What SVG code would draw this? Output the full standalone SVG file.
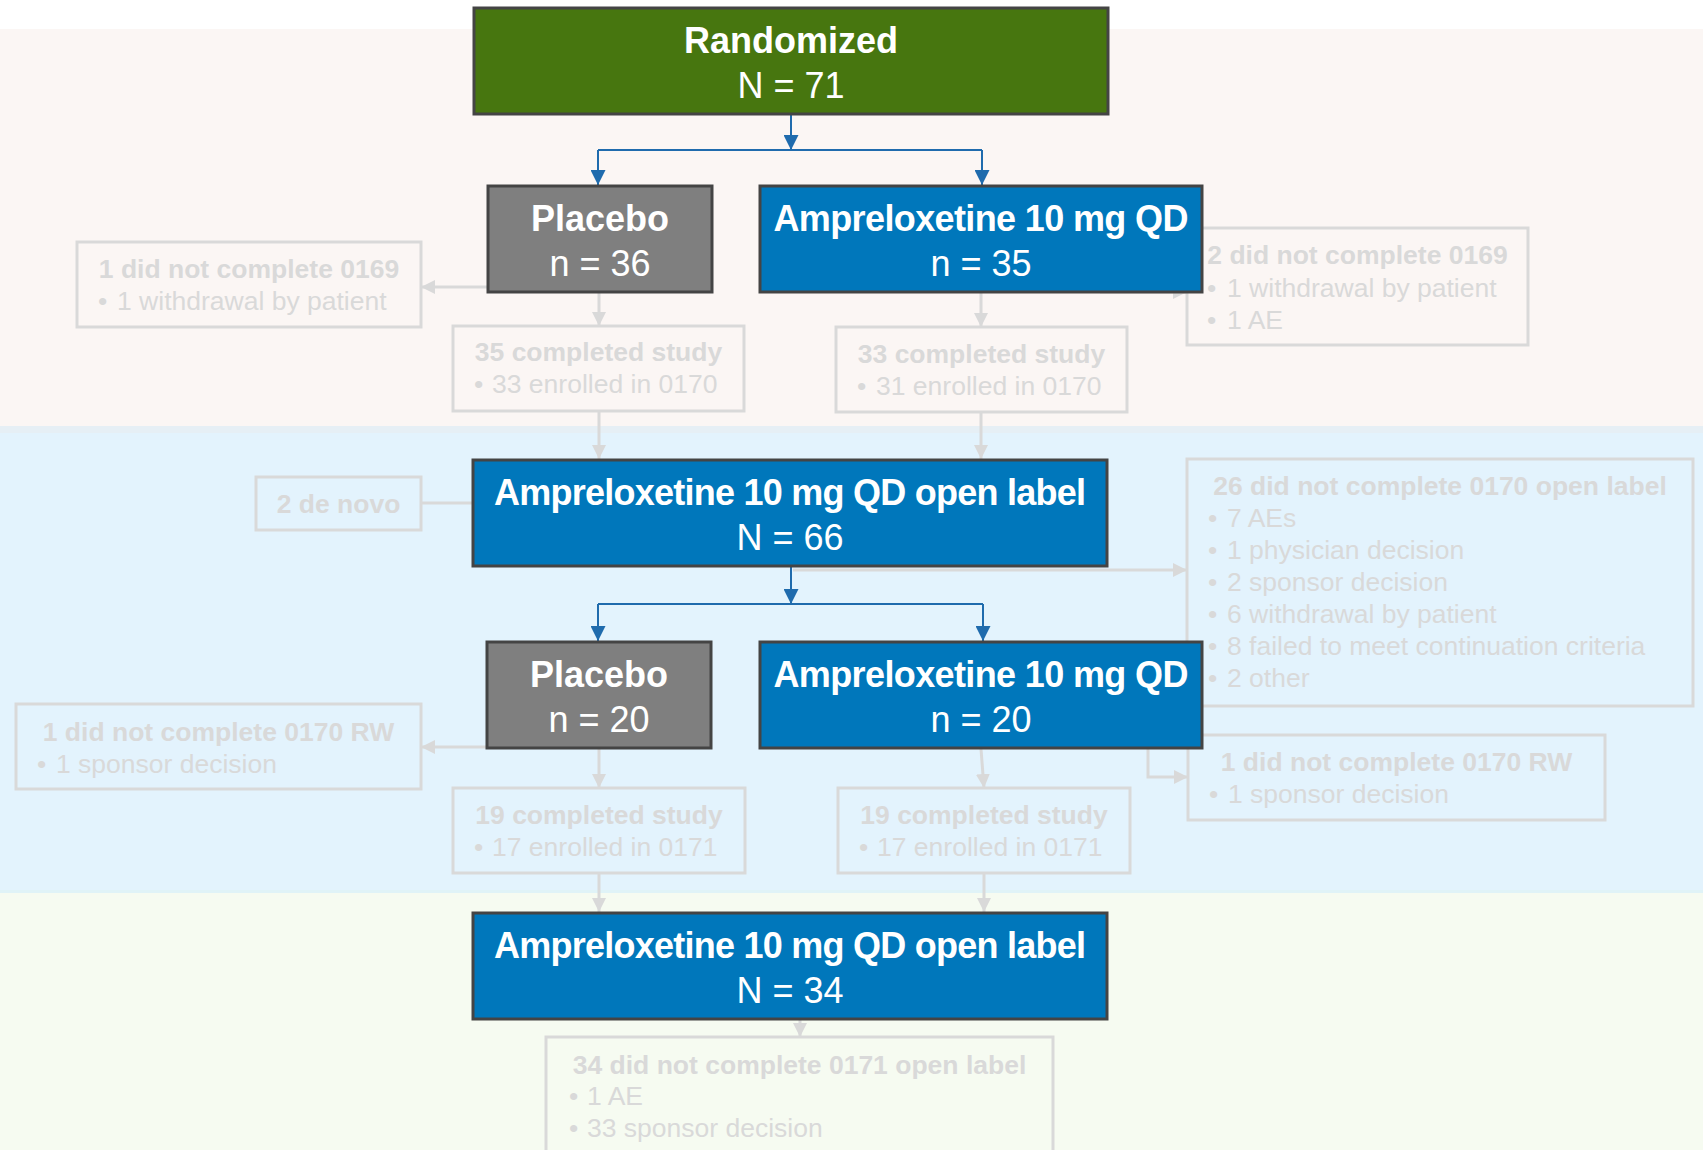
<svg xmlns="http://www.w3.org/2000/svg" width="1703" height="1150" viewBox="0 0 1703 1150">
<style>
.main{stroke:#444444;stroke-width:3}
.green{fill:#47760F}
.blue{fill:#0077BB}
.gray{fill:#7F7F7F}
.tb{font-family:"Liberation Sans",Arial,sans-serif;font-weight:bold;font-size:36px;fill:#FFFFFF;text-anchor:middle}
.tr{font-family:"Liberation Sans",Arial,sans-serif;font-size:36px;fill:#FFFFFF;text-anchor:middle}
.fbox{fill:none;stroke:#D9D9D9;stroke-width:3}
.fh{font-family:"Liberation Sans",Arial,sans-serif;font-weight:bold;font-size:26.5px;fill:#D9D9D9;text-anchor:middle}
.fr{font-family:"Liberation Sans",Arial,sans-serif;font-size:26.5px;fill:#D9D9D9}
.cb{fill:none;stroke:#1F6BAD;stroke-width:2}
.cg{fill:none;stroke:#D9D9D9;stroke-width:3}
</style>
<defs>
<marker id="ab" viewBox="0 0 15 15" refX="15" refY="7.5" markerWidth="15" markerHeight="15" markerUnits="userSpaceOnUse" orient="auto"><path d="M0,0 L15,7.5 L0,15 z" fill="#1F6BAD"/></marker>
<marker id="ag" viewBox="0 0 14 14" refX="14" refY="7" markerWidth="14" markerHeight="14" markerUnits="userSpaceOnUse" orient="auto"><path d="M0,0 L14,7 L0,14 z" fill="#D9D9D9"/></marker>
</defs>
<g id="bands">
<rect x="0" y="0" width="1703" height="1150" fill="#FFFFFF"/>
<rect x="0" y="29" width="1703" height="398" fill="#FBF6F4"/>
<rect x="0" y="427" width="1703" height="466" fill="#E3F3FD"/>
<rect x="0" y="426" width="1703" height="7" fill="#E6EFF5"/>
<rect x="0" y="893" width="1703" height="257" fill="#F6FBF1"/>
<rect x="0" y="890" width="1703" height="3" fill="#E0F3F7"/>
</g>
<g id="connectors">
<path class="cb" d="M791,115 V150" marker-end="url(#ab)"/>
<path class="cb" d="M598,150 H982"/>
<path class="cb" d="M598,150 V185" marker-end="url(#ab)"/>
<path class="cb" d="M982,150 V185" marker-end="url(#ab)"/>
<path class="cb" d="M791,567 V604" marker-end="url(#ab)"/>
<path class="cb" d="M598,604 H983"/>
<path class="cb" d="M598,604 V641" marker-end="url(#ab)"/>
<path class="cb" d="M983,604 V641" marker-end="url(#ab)"/>
<path class="cg" d="M487,287 H421" marker-end="url(#ag)"/>
<path class="cg" d="M599,293 V326" marker-end="url(#ag)"/>
<path class="cg" d="M981,293 V327" marker-end="url(#ag)"/>
<path class="cg" d="M1100,292 H1187" marker-end="url(#ag)"/>
<path class="cg" d="M599,411 V459" marker-end="url(#ag)"/>
<path class="cg" d="M981,412 V459" marker-end="url(#ag)"/>
<path class="cg" d="M421,503 H472"/>
<path class="cg" d="M793,570 H1187" marker-end="url(#ag)"/>
<path class="cg" d="M486,747 H421" marker-end="url(#ag)"/>
<path class="cg" d="M599,749 V788" marker-end="url(#ag)"/>
<path class="cg" d="M981,749 L984,788" marker-end="url(#ag)"/>
<path class="cg" d="M1148,749 V777 H1188" marker-end="url(#ag)"/>
<path class="cg" d="M599,873 V912" marker-end="url(#ag)"/>
<path class="cg" d="M984,873 V912" marker-end="url(#ag)"/>
<path class="cg" d="M800,1020 V1037" marker-end="url(#ag)"/>
</g>
<g id="n-dnc0169-placebo">
<rect class="fbox" x="77" y="242" width="344" height="85"/>
<text class="fh" x="249" y="278">1 did not complete 0169</text>
<text class="fr" x="98" y="310">•<tspan x="117">1 withdrawal by patient</tspan></text>
</g>
<g id="n-completed-placebo1">
<rect class="fbox" x="453" y="326" width="291" height="85"/>
<text class="fh" x="598.5" y="361">35 completed study</text>
<text class="fr" x="474" y="393">•<tspan x="492">33 enrolled in 0170</tspan></text>
</g>
<g id="n-completed-ampre1">
<rect class="fbox" x="836" y="327" width="291" height="85"/>
<text class="fh" x="981.5" y="363">33 completed study</text>
<text class="fr" x="857" y="395">•<tspan x="876">31 enrolled in 0170</tspan></text>
</g>
<g id="n-dnc0169-ampre">
<rect class="fbox" x="1187" y="228" width="341" height="117"/>
<text class="fh" x="1357.5" y="264">2 did not complete 0169</text>
<text class="fr" x="1207" y="297">•<tspan x="1227">1 withdrawal by patient</tspan></text>
<text class="fr" x="1207" y="329">•<tspan x="1227">1 AE</tspan></text>
</g>
<g id="n-denovo">
<rect class="fbox" x="256" y="477" width="165" height="53"/>
<text class="fh" x="338.5" y="513">2 de novo</text>
</g>
<g id="n-dnc0170-ol">
<rect class="fbox" x="1187" y="459" width="506" height="247"/>
<text class="fh" x="1440" y="495">26 did not complete 0170 open label</text>
<text class="fr" x="1208" y="527">•<tspan x="1227">7 AEs</tspan></text>
<text class="fr" x="1208" y="559">•<tspan x="1227">1 physician decision</tspan></text>
<text class="fr" x="1208" y="591">•<tspan x="1227">2 sponsor decision</tspan></text>
<text class="fr" x="1208" y="623">•<tspan x="1227">6 withdrawal by patient</tspan></text>
<text class="fr" x="1208" y="655">•<tspan x="1227">8 failed to meet continuation criteria</tspan></text>
<text class="fr" x="1208" y="687">•<tspan x="1227">2 other</tspan></text>
</g>
<g id="n-dnc0170rw-placebo">
<rect class="fbox" x="16" y="704" width="405" height="85"/>
<text class="fh" x="218.5" y="741">1 did not complete 0170 RW</text>
<text class="fr" x="37" y="773">•<tspan x="56">1 sponsor decision</tspan></text>
</g>
<g id="n-completed-placebo2">
<rect class="fbox" x="453" y="788" width="292" height="85"/>
<text class="fh" x="599" y="824">19 completed study</text>
<text class="fr" x="474" y="856">•<tspan x="492">17 enrolled in 0171</tspan></text>
</g>
<g id="n-completed-ampre2">
<rect class="fbox" x="838" y="788" width="292" height="85"/>
<text class="fh" x="984" y="824">19 completed study</text>
<text class="fr" x="859" y="856">•<tspan x="877">17 enrolled in 0171</tspan></text>
</g>
<g id="n-dnc0170rw-ampre">
<rect class="fbox" x="1188" y="735" width="417" height="85"/>
<text class="fh" x="1396.5" y="771">1 did not complete 0170 RW</text>
<text class="fr" x="1209" y="803">•<tspan x="1228">1 sponsor decision</tspan></text>
</g>
<g id="n-dnc0171-ol">
<rect class="fbox" x="546" y="1037" width="507" height="130"/>
<text class="fh" x="799.5" y="1074">34 did not complete 0171 open label</text>
<text class="fr" x="569" y="1105">•<tspan x="587">1 AE</tspan></text>
<text class="fr" x="569" y="1137">•<tspan x="587">33 sponsor decision</tspan></text>
</g>
<g id="n-randomized">
<rect class="main green" x="474" y="8" width="634" height="106"/>
<text class="tb" x="791" y="53">Randomized</text>
<text class="tr" x="791" y="98">N = 71</text>
</g>
<g id="n-placebo1">
<rect class="main gray" x="488" y="186" width="224" height="106"/>
<text class="tb" x="600" y="231">Placebo</text>
<text class="tr" x="600" y="276">n = 36</text>
</g>
<g id="n-ampre1">
<rect class="main blue" x="760" y="186" width="442" height="106"/>
<text class="tb" x="981" y="231" textLength="415" lengthAdjust="spacing">Ampreloxetine 10 mg QD</text>
<text class="tr" x="981" y="276">n = 35</text>
</g>
<g id="n-openlabel1">
<rect class="main blue" x="473" y="460" width="634" height="106"/>
<text class="tb" x="790" y="505" textLength="592" lengthAdjust="spacing">Ampreloxetine 10 mg QD open label</text>
<text class="tr" x="790" y="550">N = 66</text>
</g>
<g id="n-placebo2">
<rect class="main gray" x="487" y="642" width="224" height="106"/>
<text class="tb" x="599" y="687">Placebo</text>
<text class="tr" x="599" y="732">n = 20</text>
</g>
<g id="n-ampre2">
<rect class="main blue" x="760" y="642" width="442" height="106"/>
<text class="tb" x="981" y="687" textLength="415" lengthAdjust="spacing">Ampreloxetine 10 mg QD</text>
<text class="tr" x="981" y="732">n = 20</text>
</g>
<g id="n-openlabel2">
<rect class="main blue" x="473" y="913" width="634" height="106"/>
<text class="tb" x="790" y="958" textLength="592" lengthAdjust="spacing">Ampreloxetine 10 mg QD open label</text>
<text class="tr" x="790" y="1003">N = 34</text>
</g>
</svg>
